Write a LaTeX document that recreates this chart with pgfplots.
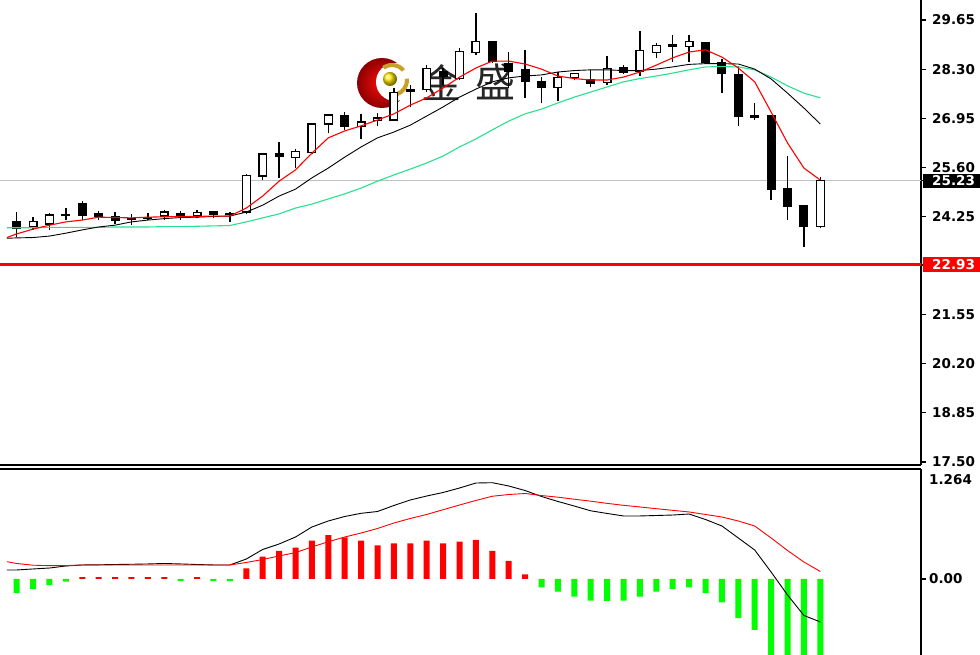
\documentclass[border=0pt]{standalone}
\usepackage{pgfplots}
\pgfplotsset{compat=1.18}
\usepackage{pgfplotstable}
\usepackage{fontspec}
\setmainfont{DejaVu Sans}
\newfontfamily\cjk{Noto Sans CJK SC}

\definecolor{maGreen}{RGB}{40,225,140}
\definecolor{histGreen}{RGB}{0,255,0}
\definecolor{lastGray}{RGB}{192,192,192}
\definecolor{goldA}{RGB}{200,160,40}

% price label box on the right scale
\newcommand\pbox[2]{{\setlength{\fboxsep}{0pt}\colorbox{#1}{\rule[-2.2pt]{0pt}{14.5pt}\hspace{9pt}\textcolor{white}{#2}\hspace{12pt}}}}

% candles: index, open, high, low, close
\pgfplotstableread{
i o h l c
0 24.10 24.38 23.68 23.92
1 23.97 24.24 23.88 24.12
2 24.04 24.35 23.89 24.29
3 24.27 24.47 24.15 24.29
4 24.61 24.68 24.15 24.29
5 24.32 24.40 24.15 24.24
6 24.24 24.38 24.04 24.15
7 24.20 24.31 24.01 24.17
8 24.20 24.35 24.15 24.22
9 24.26 24.43 24.15 24.37
10 24.33 24.40 24.15 24.26
11 24.26 24.43 24.20 24.35
12 24.37 24.37 24.20 24.31
13 24.33 24.36 24.10 24.31
14 24.37 25.43 24.33 25.38
15 25.36 25.98 25.25 25.97
16 25.98 26.30 25.32 25.89
17 25.87 26.09 25.57 26.03
18 26.00 26.81 25.98 26.79
19 26.79 27.07 26.53 27.04
20 27.01 27.11 26.63 26.74
21 26.72 27.07 26.37 26.85
22 26.90 27.10 26.74 26.96
23 26.90 27.77 26.88 27.66
24 27.70 27.86 27.27 27.73
25 27.73 28.41 27.68 28.32
26 28.22 28.33 27.86 28.11
27 28.05 28.87 28.00 28.78
28 28.75 29.83 28.69 29.05
29 29.05 29.05 28.46 28.50
30 28.46 28.78 27.77 28.23
31 28.28 28.83 27.50 27.95
32 27.95 28.09 27.36 27.80
33 27.80 28.23 27.43 28.07
34 28.07 28.20 28.00 28.17
35 28.00 28.28 27.80 27.91
36 27.93 28.66 27.86 28.32
37 28.34 28.41 28.17 28.20
38 28.23 29.35 28.11 28.81
39 28.76 29.01 28.60 28.94
40 28.93 29.24 28.50 28.96
41 28.92 29.24 28.50 29.05
42 29.03 29.05 28.44 28.48
43 28.49 28.57 27.65 28.17
44 28.14 28.39 26.74 27.01
45 27.02 27.36 26.90 26.97
46 27.01 27.04 24.70 24.99
47 25.00 25.91 24.15 24.54
48 24.56 24.56 23.42 23.97
49 23.97 25.34 23.92 25.23
}\candles

% moving averages: fast (red), medium (black), slow (green)
\pgfplotstableread{
i r k g
-0.6 23.67 23.65 23.94
0 23.77 23.66 23.94
1 23.90 23.67 23.94
2 24.01 23.71 23.95
3 24.10 23.79 23.95
4 24.15 23.88 23.95
5 24.23 23.96 23.95
6 24.22 24.01 23.96
7 24.21 24.10 23.96
8 24.23 24.15 23.96
9 24.24 24.19 23.97
10 24.25 24.22 23.97
11 24.25 24.23 23.98
12 24.26 24.25 23.99
13 24.26 24.26 24.00
14 24.48 24.37 24.10
15 24.81 24.56 24.21
16 25.22 24.81 24.32
17 25.53 25.00 24.48
18 25.99 25.31 24.59
19 26.41 25.58 24.73
20 26.60 25.88 24.87
21 26.74 26.16 25.03
22 26.90 26.41 25.22
23 27.07 26.57 25.39
24 27.31 26.76 25.55
25 27.51 27.01 25.72
26 27.78 27.26 25.91
27 28.08 27.53 26.16
28 28.33 27.75 26.38
29 28.52 27.95 26.63
30 28.52 28.06 26.87
31 28.44 28.11 27.07
32 28.30 28.14 27.20
33 28.11 28.22 27.37
34 28.04 28.26 27.53
35 28.00 28.28 27.67
36 28.00 28.28 27.81
37 28.08 28.26 27.95
38 28.22 28.26 28.04
39 28.41 28.30 28.11
40 28.61 28.36 28.19
41 28.77 28.43 28.28
42 28.83 28.45 28.36
43 28.63 28.45 28.37
44 28.33 28.44 28.36
45 27.95 28.30 28.28
46 27.12 28.03 28.08
47 26.27 27.64 27.84
48 25.58 27.23 27.64
49 25.25 26.79 27.51
}\ma

% MACD histogram
\pgfplotstableread{
i h
0 -0.18
1 -0.13
2 -0.077
3 -0.034
4 0.025
5 0.025
6 0.025
7 0.025
8 0.025
9 0.025
10 -0.025
11 0.025
12 -0.025
13 -0.025
14 0.137
15 0.285
16 0.36
17 0.40
18 0.49
19 0.56
20 0.53
21 0.49
22 0.43
23 0.455
24 0.455
25 0.49
26 0.455
27 0.476
28 0.50
29 0.36
30 0.23
31 0.06
32 -0.106
33 -0.16
34 -0.226
35 -0.277
36 -0.28
37 -0.277
38 -0.226
39 -0.16
40 -0.128
41 -0.106
42 -0.18
43 -0.30
44 -0.50
45 -0.65
46 -1.10
47 -1.15
48 -1.20
49 -1.15
}\hist

% MACD lines: k = fast line (black), r = signal (red)
\pgfplotstableread{
i k r
-0.6 0.115 0.221
0 0.115 0.198
1 0.128 0.176
2 0.140 0.170
3 0.166 0.171
4 0.179 0.179
5 0.181 0.179
6 0.185 0.179
7 0.188 0.179
8 0.192 0.179
9 0.198 0.179
10 0.192 0.179
11 0.185 0.179
12 0.179 0.179
13 0.179 0.179
14 0.255 0.211
15 0.377 0.249
16 0.447 0.294
17 0.536 0.337
18 0.664 0.409
19 0.741 0.476
20 0.798 0.536
21 0.839 0.587
22 0.862 0.645
23 0.939 0.715
24 1.009 0.773
25 1.060 0.824
26 1.105 0.885
27 1.162 0.945
28 1.226 1.003
29 1.230 1.057
30 1.188 1.079
31 1.130 1.092
32 1.054 1.066
33 0.990 1.045
34 0.932 1.019
35 0.871 0.994
36 0.837 0.966
37 0.805 0.941
38 0.805 0.920
39 0.811 0.898
40 0.817 0.877
41 0.830 0.856
42 0.760 0.824
43 0.677 0.792
44 0.524 0.741
45 0.370 0.677
46 0.089 0.524
47 -0.204 0.364
48 -0.466 0.217
49 -0.549 0.096
}\macd

\pgfplotsset{
  panel/.style={
    scale only axis, width=921pt,
    xmin=-1.018, xmax=55.14, xtick=\empty,
    axis y line*=right,
    axis line style={line width=1.6pt, black},
    tick align=outside, major tick length=5pt,
    ytick style={line width=1.2pt, black},
    yticklabel style={anchor=west, inner sep=0pt,
      font=\bfseries\fontsize{13.5}{16}\selectfont},
  },
  bars/.style={draw=none, mark=none, forget plot,
    error bars/.cd, y dir=plus, y explicit, error mark=none},
}

\begin{document}
\begin{tikzpicture}[x=1pt,y=1pt]
  % watermark logo
  \begin{scope}
    \shade[inner color=red!95!white, outer color=red!55!black] (382,572) circle (25);
    \fill[white] (395,573) circle (19);
    \fill[goldA] (392,575) ++(40:17) arc (40:125:17) -- ++(125:-4) arc (125:40:13) -- cycle;
    \fill[goldA] (392,575) ++(-75:17) arc (-75:5:17) -- ++(5:-4) arc (5:-75:13) -- cycle;
    \shade[ball color=yellow!80!orange] (390,576) circle (7);
  \end{scope}
  \node[font=\cjk\fontsize{40}{40}\selectfont, text=black!85] at (441.5,572.5) {金};
  \node[font=\cjk\fontsize{40}{40}\selectfont, text=black!85] at (495.5,573.5) {盛};

  % price panel
  \begin{axis}[panel,
    at={(0pt,190pt)}, anchor=south west, height=465pt,
    axis x line*=bottom,
    ymin=17.417, ymax=30.20,
    ytick={17.5,18.85,20.2,21.55,22.9,24.25,25.6,26.95,28.3,29.65},
    yticklabels={17.50,18.85,20.20,21.55,22.90,24.25,25.60,26.95,28.30,29.65},
    extra y ticks={25.23,22.93},
    extra y tick labels={\pbox{black}{25.23},\pbox{red}{22.93}},
    extra y tick style={yticklabel style={xshift=-9pt}},
    yticklabel style={xshift=6pt},
  ]
    \addplot[lastGray, line width=1pt, forget plot] coordinates {(-2,25.23) (60,25.23)};
    \addplot[red, line width=2.2pt, forget plot] coordinates {(-2,22.93) (60,22.93)};
    % wicks
    \addplot[bars, error bar style={draw=black, line width=1.4pt}]
      table[x=i, y=l, y error plus expr=\thisrow{h}-\thisrow{l}] {\candles};
    % bodies
    \addplot[bars, error bar style={draw=black, line width=9pt}]
      table[x=i, y expr={min(\thisrow{o},\thisrow{c})-0.018},
            y error plus expr={abs(\thisrow{c}-\thisrow{o})+0.036}] {\candles};
    \addplot[bars, error bar style={draw=white, line width=6.4pt}]
      table[x=i, y expr={\thisrow{o}+0.018},
            y error plus expr={max(\thisrow{c}-\thisrow{o}-0.036,0)}] {\candles};
    % moving averages
    \addplot[maGreen, line width=1.1pt] table[x=i, y=g] {\ma};
    \addplot[black, line width=0.9pt] table[x=i, y=k] {\ma};
    \addplot[red, line width=1.1pt] table[x=i, y=r] {\ma};
  \end{axis}

  % MACD panel
  \begin{axis}[panel,
    at={(0pt,0pt)}, anchor=south west, height=186pt,
    axis x line*=top,
    ymin=-0.971, ymax=1.405,
    ytick={0}, yticklabels={0.00},
    extra y ticks={1.264}, extra y tick labels={1.264},
    extra y tick style={major tick length=0pt, yticklabel style={xshift=5pt}},
    yticklabel style={xshift=3pt},
  ]
    \addplot[ybar, bar width=6pt, bar shift=0pt, fill=red, draw=none,
      restrict y to domain=0:5] table[x=i, y=h] {\hist};
    \addplot[ybar, bar width=6pt, bar shift=0pt, fill=histGreen, draw=none,
      restrict y to domain=-5:0] table[x=i, y=h] {\hist};
    \addplot[black, line width=0.9pt] table[x=i, y=k] {\macd};
    \addplot[red, line width=0.9pt] table[x=i, y=r] {\macd};
  \end{axis}

  \pgfresetboundingbox
  \useasboundingbox (0,0) rectangle (980,655);
\end{tikzpicture}
\end{document}
